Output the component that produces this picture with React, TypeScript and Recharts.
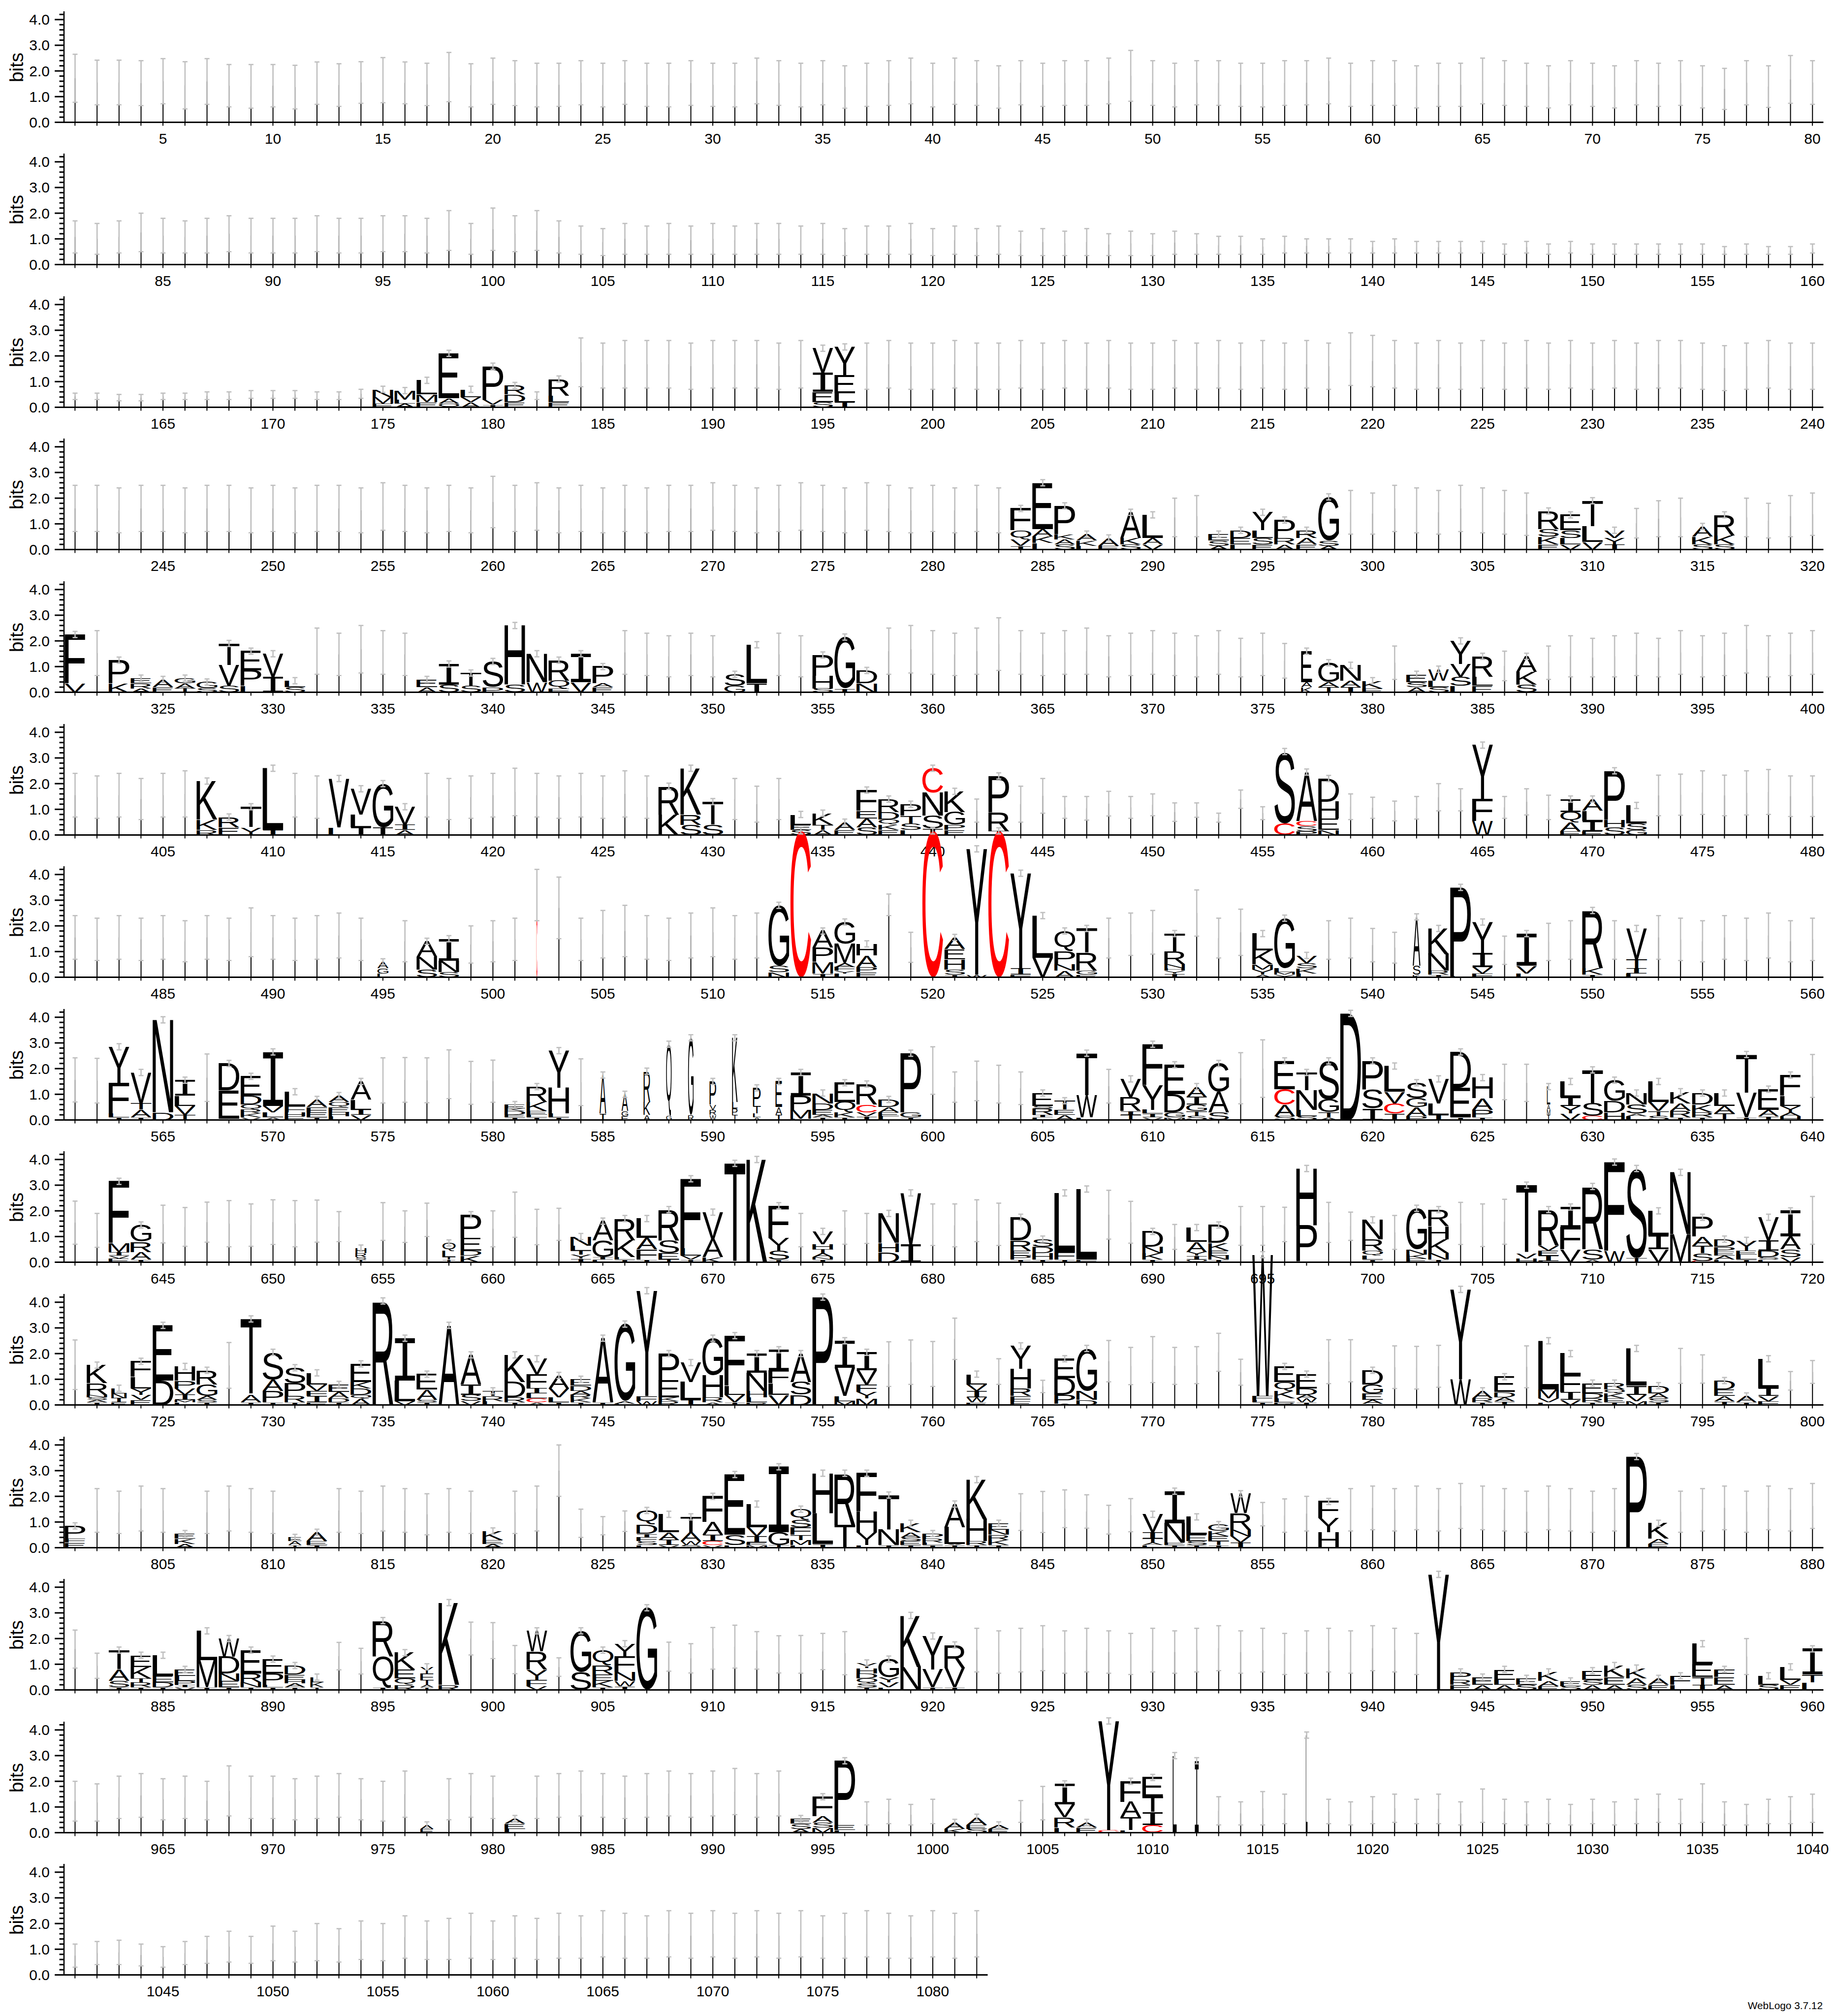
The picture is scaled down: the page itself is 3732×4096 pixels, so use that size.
import React, { useMemo } from 'react'
import { Bar, BarChart, ErrorBar, XAxis, YAxis } from 'recharts'

// ---- chart values (bits) -------------------------------------------------
// error bar tops / bottoms per position, '-' where a letter stack was read
const errTop0 = `2.65 2.42 2.42 2.4 2.48 2.36 2.48 2.25 2.25 2.25
2.22 2.35 2.28 2.36 2.52 2.35 2.3 2.72 2.28 2.5
2.4 2.3 2.3 2.4 2.3 2.4 2.3 2.3 2.4 2.3
2.3 2.5 2.4 2.3 2.4 2.2 2.3 2.4 2.5 2.3
2.5 2.4 2.2 2.4 2.3 2.4 2.4 2.5 2.8 2.4
2.3 2.4 2.4 2.3 2.3 2.4 2.4 2.5 2.3 2.4
2.4 2.2 2.3 2.3 2.5 2.4 2.3 2.2 2.4 2.3
2.2 2.4 2.3 2.4 2.2 2.1 2.4 2.2 2.6 2.4`
const errBot0 = `.78 .68 .68 .65 .72 .52 .7 .6 .55 .6
.52 .7 .62 .74 .76 .72 .65 .8 .6 .7
.65 .6 .62 .68 .6 .7 .62 .6 .66 .62
.6 .72 .66 .6 .68 .55 .62 .66 .72 .6
.7 .66 .55 .68 .62 .66 .66 .72 .82 .66
.6 .68 .66 .62 .6 .66 .68 .72 .62 .66
.66 .56 .62 .62 .72 .66 .62 .56 .68 .62
.56 .68 .62 .66 .56 .5 .68 .58 .74 .7`

const errTop1 = `1.7 1.6 1.7 2.0 1.8 1.7 1.8 1.9 1.8 1.8
1.8 1.9 1.8 1.8 1.9 1.9 1.8 2.1 1.6 2.2
1.9 2.1 1.7 1.5 1.4 1.6 1.5 1.6 1.5 1.6
1.5 1.6 1.6 1.5 1.6 1.4 1.5 1.5 1.6 1.4
1.5 1.4 1.5 1.3 1.4 1.3 1.4 1.2 1.3 1.2
1.3 1.2 1.1 1.1 1.0 1.1 1.0 1.0 1.0 .9
1.0 .9 .9 .9 .9 .8 .9 .8 .9 .8
.8 .8 .8 .8 .8 .7 .8 .7 .7 .8`
const errBot1 = `.45 .4 .45 .5 .45 .45 .45 .5 .45 .45
.45 .5 .45 .45 .5 .5 .45 .55 .4 .55
.5 .55 .45 .4 .35 .4 .4 .4 .4 .4
.4 .4 .4 .4 .4 .35 .4 .4 .4 .35
.4 .35 .4 .35 .35 .35 .35 .35 .35 .35
.4 .4 .4 .4 .4 .45 .45 .45 .45 .45
.45 .45 .45 .45 .45 .4 .45 .4 .45 .4
.4 .4 .4 .4 .4 .4 .4 .4 .4 .45`

const errTop2 = `.55 .55 .5 .5 .55 .55 .6 .6 .65 .65
.65 .6 .6 .7 - - - - - -
- .6 - 2.7 2.5 2.6 2.6 2.6 2.5 2.6
2.6 2.6 2.5 2.6 - - 2.5 2.6 2.5 2.5
2.6 2.5 2.5 2.6 2.5 2.6 2.5 2.6 2.5 2.5
2.6 2.5 2.6 2.5 2.6 2.5 2.6 2.5 2.9 2.8
2.6 2.5 2.6 2.5 2.6 2.5 2.6 2.5 2.6 2.5
2.6 2.5 2.6 2.6 2.5 2.4 2.5 2.6 2.5 2.5`
const errBot2 = `.3 .3 .25 .25 .3 .3 .3 .3 .35 .35
.35 .3 .3 .35 - - - - - -
- .3 - .8 .75 .75 .75 .75 .7 .75
.75 .75 .7 .75 - - .7 .75 .7 .7
.75 .7 .7 .75 .7 .75 .7 .75 .7 .7
.75 .7 .75 .7 .75 .7 .75 .7 .85 .8
.75 .7 .75 .7 .75 .7 .75 .7 .75 .7
.75 .7 .75 .75 .7 .65 .7 .75 .7 .7`

const errTop3 = `2.5 2.5 2.4 2.5 2.5 2.4 2.5 2.5 2.4 2.5
2.4 2.5 2.5 2.4 2.6 2.5 2.4 2.5 2.4 2.85
2.5 2.6 2.4 2.5 2.4 2.5 2.4 2.5 2.5 2.6
2.5 2.4 2.5 2.6 2.5 2.4 2.6 2.5 2.4 2.5
2.4 2.5 2.4 - - - - - - -
2.0 2.1 - - - - - - 2.3 2.2
2.5 2.4 2.3 2.5 2.4 2.3 2.2 - - -
- 1.6 1.9 2.0 - - 2.0 1.8 2.1 2.2`
const errBot3 = `.7 .7 .65 .7 .7 .65 .7 .7 .65 .7
.65 .7 .7 .65 .75 .7 .65 .7 .65 .85
.7 .75 .65 .7 .65 .7 .65 .7 .7 .75
.7 .65 .7 .75 .7 .65 .75 .7 .65 .7
.65 .7 .65 - - - - - - -
.5 .5 - - - - - - .6 .6
.7 .65 .6 .7 .65 .6 .55 - - -
- .45 .5 .5 - - .5 .45 .5 .55`

const errTop4 = `- 2.4 - - - - - - - -
- 2.5 2.3 2.6 2.4 2.3 - - - -
- - - - - 2.4 2.3 2.2 2.3 2.2
- - 2.3 2.2 - - - 2.5 2.6 2.4
2.3 2.5 2.9 2.4 2.3 2.4 2.5 2.2 2.3 2.4
2.3 2.2 2.4 2.1 2.3 1.9 - - - -
1.8 - - - - 1.6 - 1.8 2.2 2.1
2.2 2.3 2.1 2.4 2.2 2.3 2.6 2.2 2.3 2.4`
const errBot4 = `- .65 - - - - - - - -
- .7 .65 .75 .7 .65 - - - -
- - - - - .7 .65 .6 .65 .6
- - .65 .6 - - - .7 .75 .7
.65 .7 .85 .7 .65 .7 .7 .6 .65 .7
.65 .6 .7 .6 .65 .55 - - - -
.5 - - - - .45 - .5 .6 .6
.6 .65 .6 .7 .6 .65 .75 .6 .65 .7`

const errTop5 = `2.4 2.3 2.4 2.2 2.4 2.5 - - - -
2.4 2.3 - - - - 2.4 2.2 2.3 2.4
2.6 2.4 2.3 2.4 2.3 2.5 2.3 - - -
2.2 1.9 2.2 - - - - - - -
- 1.4 - 1.9 2.2 1.5 1.5 1.7 1.5 1.6
1.25 1.25 .85 1.75 1.1 - - - 1.6 1.47
1.32 1.5 2.0 1.8 - 1.5 1.8 1.55 - -
- - 2.33 2.37 2.5 2.33 2.5 2.55 2.3 2.3`
const errBot5 = `.7 .65 .7 .6 .7 .7 - - - -
.7 .65 - - - - .7 .6 .65 .7
.75 .7 .65 .7 .65 .7 .65 - - -
.6 .5 .6 - - - - - - -
- .5 - .5 .85 .65 .58 .74 .65 .75
.53 .69 .5 1.04 .6 - - - .6 .65
.55 .62 .94 .94 - .65 .78 .6 - -
- - .75 .77 .8 .75 .78 .8 .72 .72`

const errTop6 = `2.4 2.3 2.4 2.3 2.4 2.2 2.4 2.3 2.7 2.4
2.3 2.4 2.5 2.3 - 2.2 - - 2.0 2.2
2.3 4.2 3.9 2.3 2.6 2.8 2.4 2.3 2.5 2.7
2.4 2.5 - - - - - 3.24 1.75 -
- - - - - - - 2.3 2.5 2.6
- 3.4 2.3 2.65 - - - 2.2 2.3 1.9
1.75 - - - - 1.6 - 2.1 2.2 -
2.2 - 2.4 2.3 2.2 2.4 2.3 2.5 2.2 2.3`
const errBot6 = `.7 .65 .7 .65 .7 .6 .7 .65 .8 .7
.65 .7 .75 .65 - .6 - - .55 .6
.65 2.2 1.5 .65 .75 .8 .7 .65 .75 .8
.7 .75 - - - - - 2.4 .58 -
- - - - - - - .75 .85 .9
- 1.6 .75 .85 - - - .7 .75 .6
.55 - - - - .5 - .65 .7 -
.7 - .7 .65 .6 .7 .65 .75 .6 .65`

const errTop7 = `2.42 2.4 - - - - 2.57 - - -
- - - - 2.42 2.43 2.42 2.73 2.28 2.33
- - - 2.38 - - - - - -
- - - - - - - - - 2.85
1.87 2.29 2.13 1.87 - - - 1.97 - -
- - - 2.62 3.12 - - - - -
- - - - - 2.17 2.17 - - -
- - - - - - - - - 2.55`
const errBot7 = `.7 .66 - - - - .72 - - -
- - - - .66 .69 .67 .83 .61 .69
- - - .56 - - - - - -
- - - - - - - - - 1.0
.69 .75 .66 .6 - - - .66 - -
- - - .63 .88 - - - - -
- - - - - .79 .72 - - -
- - - - - - - - - .88`

const errTop8 = `2.38 1.9 - - 2.22 2.13 2.34 2.4 2.27 2.43
2.4 2.42 1.97 - 2.32 2.0 2.3 - - 2.0
2.73 2.06 2.1 - - - - - - -
- - - 1.9 - 2.0 1.9 - - 2.27
2.27 2.43 2.3 - - - - 2.8 2.37 -
1.47 - - 2.17 2.17 2.14 - 2.33 1.95 -
1.82 - - 2.33 2.27 2.45 - - - -
- - - - - - - - - 2.56`
const errBot8 = `.7 .58 - - .75 .62 .78 .6 .62 .69
.6 .78 .8 - .85 .77 1.0 - - .6
.97 .68 .85 - - - - - - -
- - - .6 - .7 .73 - - .65
.6 .8 .65 - - - - .9 .74 -
.5 - - .66 .66 .8 - .77 .85 -
.5 - - .69 .61 .7 - - - -
- - - - - - - - - .7`

const errTop9 = `2.53 - - - - - - 2.43 - -
- - - - - - - - - -
- - - - - - - - - -
- - - - - - - 2.46 2.53 2.47
3.38 - 1.8 - .96 - - 2.51 2.24 2.66
2.24 2.27 2.79 1.78 - - - 2.54 2.54 -
2.3 2.28 2.32 - - - 2.3 - - -
- - - 2.2 1.95 - - - 1.3 1.73`
const errBot9 = `.6 - - - - - - .65 - -
- - - - - - - - - -
- - - - - - - - - -
- - - - - - - .72 .8 .72
1.77 - .8 - .48 - - .9 .79 .87
.8 .83 1.31 .77 - - - .83 .9 -
.64 .62 .69 - - - .67 - - -
- - - .84 .85 - - - .58 .84`

const errTop10 = `- 2.3 2.2 2.4 2.3 - 2.2 2.4 2.3 2.2
- - 2.3 2.2 2.4 2.3 2.1 2.3 2.2 -
2.2 2.4 4.0 1.5 1.21 1.43 - - - -
- - - - - - - - - -
- - - 2.1 2.19 2.25 2.06 1.65 1.91 -
- - - - 1.76 1.9 2.0 - 2.3 2.4
2.3 2.4 2.3 2.5 2.4 2.3 2.2 2.4 2.3 2.2
2.3 - - 2.2 2.3 2.4 2.2 2.4 2.3 2.5`
const errBot10 = `- .6 .55 .65 .6 - .55 .65 .6 .55
- - .6 .55 .65 .6 .5 .6 .55 -
.55 .65 2.0 .4 .5 .63 - - - -
- - - - - - - - - -
- - - .67 .59 .78 .76 .53 .62 -
- - - - .85 .6 .65 - .65 .7
.65 .7 .65 .75 .7 .65 .6 .7 .65 .6
.65 - - .6 .65 .7 .6 .7 .65 .75`

const errTop11 = `2.33 1.43 - - - - - - - -
- - 1.85 1.62 - - - - 2.64 2.62
1.73 - 1.25 - - - - 1.86 1.8 2.43
2.52 2.27 2.11 2.12 2.2 2.27 - - - -
- 2.4 2.3 2.4 2.5 2.3 2.4 2.3 2.2 2.4
2.3 2.4 2.5 2.3 2.4 2.2 2.3 2.4 2.3 2.5
2.4 2.2 - - - - - - - -
- - - - - - 2.0 - - -`
const errBot11 = `.85 .45 - - - - - - - -
- - .78 .62 - - - - 1.36 1.22
.63 - .53 - - - - .73 .66 .81
.85 .81 .66 .65 .79 .59 - - - -
- .7 .65 .7 .75 .65 .7 .65 .6 .7
.65 .7 .75 .65 .7 .6 .65 .7 .65 .75
.7 .6 - - - - - - - -
- - - - - - .6 - - -`

const errTop12 = `2.0 1.9 2.2 2.3 2.1 2.2 2.0 2.6 2.2 2.2
2.1 2.2 2.3 2.1 2.0 2.4 - 2.1 2.3 2.2
- 2.2 2.3 2.4 2.3 2.2 2.3 2.4 2.3 2.4
2.5 2.3 2.4 - - - 1.2 1.3 1.1 1.3
- - - 1.25 1.8 - - - - -
- - 1.4 1.2 1.6 1.5 - 1.3 1.2 1.4
1.5 1.3 1.5 1.2 1.7 1.3 1.2 1.3 1.1 1.3
1.2 1.3 1.5 1.3 1.9 1.2 1.1 1.3 1.4 1.5`
const errBot12 = `.45 .45 .55 .6 .5 .55 .5 .65 .55 .55
.5 .55 .6 .5 .45 .6 - .5 .6 .55
- .55 .6 .65 .6 .55 .6 .65 .6 .65
.7 .6 .65 - - - .3 .35 .3 .35
- - - .4 .5 - - - - -
- - .3 .3 .3 .35 - .35 .3 .35
.4 .35 .35 .3 .4 .35 .3 .35 .3 .35
.3 .35 .4 .35 .4 .3 .3 .35 .35 .4`

const errTop13 = `1.2 1.3 1.35 1.2 1.1 1.3 1.5 1.7 1.5 1.9
1.7 2.0 1.8 2.1 2.0 2.3 2.1 2.2 2.4 2.1
2.3 2.2 2.4 2.3 2.5 2.4 2.3 2.5 2.4 2.5
2.4 2.5 2.4 2.5 2.3 2.4 2.5 2.4 2.3 2.5
2.4 2.5`
const errBot13 = `.3 .4 .4 .35 .3 .4 .45 .5 .45 .55
.5 .55 .5 .6 .55 .65 .6 .6 .65 .6
.65 .6 .65 .65 .7 .65 .65 .7 .65 .7
.65 .7 .65 .7 .65 .65 .7 .65 .65 .7
.65 .7`

// letter stacks: position[*widthShare]=Letter height ..., listed bottom to top
const stacks2 = `175=E.15M.25N.3 176=A.15L.15M.35 177=E.2M.3L.55 178=Q.15A.2E1.75 179=A.2V.2L.3
180=I.1V.2P1.3 181=E.2D.3R.35 183=E.2L.25R.65 195=S.2E.4I.75V.95 196=I.2L.35E.7Y1.1`
const stacks3 = `284=I.15V.25Q.35F.85 285=L.25K.25A.3E1.8 286=S.2A.2K.2P1.1 287=L.15K.2A.25 288=E.15A.3
289=S.2K.25A1.0 290=V.2A.25L.9 293=A.15S.2E.25 294=L.2E.25D.3 295=E.2S.25L.3Y.7 296=A.2R.25P.7
297=E.2A.25R.3 298=A.15S.2G1.7 308=E.2K.3S.3R.7 309=V.2L.25S.3E.6 310=V.3L.6T1.0 311=I.2Y.25V.3
315=S.2K.3A.4 316=S.2K.35R.8`
const stacks4 = `321=V.35F1.9 323=K.35P.9 324=A.15R.2E.2 325=E.2A.3 326=T.15A.2G.2 327=S.15G.25
328=S.25V.8T.85 329=L.25P.6E.75 330=I.6V.9 331=S.2L.25 337=A.2E.3 338=S.3I.8 339=S.25T.5 340=P.2S1.0
341=S.3H2.3 342=W.4N1.1 343=F.15Q.3R.8 344=V.4I1.1 345=E.2A.15P.65 351=G.25S.45 352=I.35L1.5
355=S.15H.5P.8 356=I.15G2.0 357=N.35D.5 377*.5=K.2A.2E1.2 378=T.2A.2G.75 379=I.2A.25N.6 380=E.15K.3
382=A.2S.2E.3 383=S.2L.25W.45 384=L.25S.35V.5Y.9 385=E.25L.35R.8 387=S.3K.5A.6`
const stacks5 = `407=R.2K.4K1.5 408=E.3R.4 409=Y.3T.8 410=I.2L2.4 413=L.3V1.9 414=I.3L.5V1.0 415=I.3G1.7
416=A.2I.2V.7 428=K.8R1.1 429=S.4R.4K1.8 430=S.4T.9 434=S.2E.2L.4 435=A.2T.2K.45 436=E.2A.3
437=S.3A.35E.3F.8 438=E.2K.2Q.2D.3R.5 439=L.2S.25T.3P.45 440=I.25S.5N.9C.95 441=E.2P.2G.5K.8
443=T.15R.75P1.4 456=C.45S2.8 457=P.15S.2C.2A1.9 458=N.2E.45H.65D.9 465=W.55F.85Y2.1
469=E.15A.35Q.4I.5 470=E.15I.4L.4A.45 471=S.3H.3P1.9 472=G.2S.25L.7`
const stacks6 = `495*.5=L.15G.2A.25 497=S.3N.5A.6 498=S.2N.45I.85 502*.05=C2.3 513=N.2S.25G2.35 514=C5.7
515=I.15M.45P.55A.65 516=L.15Y.1F.15A.15M.75G.85 517=E.2P.2A.45H.45 520=C5.7 521=I.1S.2H.4E.4A.45
522=W.1Y4.9 523=C5.7 524=F.1I.25Y3.7 525=V.75L1.65 526=A.25N.25P.5Q.8 527=E.1G.15R.7T.95
531=I.15Y.1H.1N.15R.5T.7 535=A.1Y.2M.2K.55L.65 536=Y.1M.1L.15G1.95 537=L.15K.2S.2V.3
542*.35=K.1S.35A1.9 543=I.1R.15N.65K1.0 544=L.05P3.45 545=F.15V.25I.55Y1.2 547=L.15V.3I1.25
550=I.1K.25R2.25 552=L.15I.2T.35V1.2`
const stacks7 = `563=I.1L.15F1.2Y1.4 564=I.1A.3T.25V1.2 565=D.3N3.6 566=T.2V.35L.4I.6 568=I.05E1.1D1.05
569=V.1K.15R.15Q.2D.35E.75 570=A.1L.2V.25I2.1 571=E.15H.15F.25L.55 572=I.1E.2F.2A.3
573=L.15H.15E.2Q.2A.25 574=V.2I.2L.4A.7 581=I.1E.1D.15K.1E.15 582=I.1L.1E.15K.35R.6
583=I.1L.15H1.0Y1.45 585*.3=I.25A1.5 586*.3=E.15G.2A.65 587*.3=A.2K.5R1.2 588*.25=G.15Q2.8
589*.25=R.2G3.0 590*.3=W.2R.2V.2P.9 591*.25=T.2P.25L.25K2.5 592*.35=A.1L.15T.3P.7 593*.3=I.2A.3E1.0
594=L.05M.35P.55I.9 595=I.1A.1E.2D.25N.4 596=I.1K.2Q.4E.75 597=I.15V.15C.3R.8 598=L.15E.15A.2D.3
599=I.1G.2P2.3 605=L.1I.1R.25S.1E.5 606=A.2E.2T.35 607=L.1W.85T1.65 609=T.2I.15R.55V.7
610=V.1I.15L.15Y.95F1.6 611=M.1G.2D.7E1.15 612=S.15T.2G.25I.3A.4 613=S.3A.8G1.1 616=S.15A.45C.6E1.1
617=S.15L.25N.75T.7 618=A.1T.2G.5S1.5 619=D4.15 620=I.45S.75P1.1 621=I.25C.4V.45L1.0
622=P.15A.35G.35S.6 623=I.2L.45V.95 624=I.1E1.15D1.4 625=I.1P.3A.45H.8 628*.15=I.2M.2A.2L.7
629=V.25Y.3I.35L.6 630=C.15S.5T1.3 631=H.3D.45G.8 632=L.15A.1S.35N.45 633=S.15T.2V.35L.8
634=I.1R.25A.3K.45 635=I.1R.2K.3D.45 636=T.25A.3L.5 637=I.1V.95T1.5 638=I.15A.25E.8
639=H.15A.15Y.25L.4F.8`
const stacks8 = `643=E.15V.1I.15M.35F2.4 644=I.1A.3R.4G.65 654*.5=I.1S.1R.15H.2 658*.6=I.1T.1L.25Q.3
659=K.25D.2E.5P.9 664=I.15Y.15T.15L.2N.35 665=L.1I.1G.65A.75 666=I.1L.1K.65R.85 667=I.1F.4A.45L.75
668=T.1E.25S.5R1.2 669=I.1V.15L.3F2.7 670=K.2A.7V1.05 671=T3.85 672=K4.0 673=I.1S.35Y.5F1.25
675=I.1N.1A.15T.15H.2V.5 678=D.4H.35N1.15 679=I.7V2.0 684=I.1P.15E.2R.4D.9 685=I.1H.25D.25S.3
686=I.1F.3L2.3 687=F.1L2.75 690=I.1K.25N.25D.6 692=Q.1I.15Y.15A.4L.55 693=I.1N.15E.2K.3D.7
697=I.05P1.4H2.2 700=I.1L.15Q.2R.45N.75 702=E.15K.15N.2G1.6 703=I.1N.25K.55H.5R.65
707=H.15V.2T2.65 708=L.05I.2E.2V.2R1.4 709=V.5F.85I.8 710=A.1S.4R2.45 711=W.45F3.45 712=T.15S3.5
713=V.5I.55L.95 714=M1.1N2.4 715=C.05S.3T.3A.35P.75 716=L.1A.15E.15P.2D.3 717=I.1L.2E.15Y.4
718=L.1S.1D.25I.4V.9 719=V.2S.3A.5I1.0`
const stacks9 = `722=I.1A.1S.1N.1R.45K.7 723*.7=E.1I.15N.2L.2 724=E.2V.2Y.25L.45F.6 725=D.95E2.15
726=L.1M.1I.2V.25P.3H.55 727=I.1S.1A.15G.45R.55 729=I.1A.3T2.95 730=I.1P.45A.45S1.05
731=I.1R.25P.5S.6 732=E.1I.25F.2V.25L.45 733=I.1D.15A.25E.3 734=A.25Q.15D.25K.25E.7 735=R4.05
736=V.15L.8I1.65 737=I.1S.1A.4E.6 738=A3.1 739=V.15S.25I.4A1.15 740=L.15R.2T.2 741=I.1R.2D.6K1.05
742=A.1C.15L.2I.2F.55V.6 743=I.1L.2V.35A.5 744=I.1K.15R.15A.15D.2E.25 745=I.1A2.5 746=L.05A.1G3.0
747=W.15F.2Y4.1 748=R.15K.15E.65P1.05 749=I.2L.7V.75 750=A.1R.2H.85G1.45 751=I.1V.3L.35F1.95
752=R.1L.2H.25N.7I.75 753=V.4L.45F.5I.8 754=D.4S.5A1.1 755=P4.2 756=M.15L.2V1.1I1.05
757=M.25Y.25F.3V.55I.7 762=E.1W.2I.25V.25L.4 764=E.15F.2R.3H.75Y.9 766=A.05P.35D.65E.75
767=D.2N.35G1.65 775=I.1L.1F.15W5.5 776=R.1L.15K.3Q.35E.6 777=I.1W.15A.15D.25E.55
780=I.05A.15E.25G.35D.55 784=W1.0Y3.5 785=I.1R.15A.3 786=I.15A.15D.2E.6 788=L.1V.15M.35L1.9
789=V.2I.3F.65L.85 790=I.1R.15D.2E.4 791=I.1E.15K.2Q.15R.25 792=M.15V.25I.35L1.45 793=I.1S.15A.2D.3
796=I.15A.2E.25D.35 797=I.1A.25 798=F.15V.2I.3L1.15`
const stacks10 = `801=E.2F.15P.5 806=A.15K.2E.2 811*.6=I.1A.15E.15 812=I.1E.15A.35 820=A.15E.15K.35
827=L.1S.15F.15I.15D.35Q.55 828=V.1I.2A.3L.7 829=S.1W.15A.35T.6 830=V.1C.15I.25A.5F1.0
831=L.1S.4E2.35 832=M.1E.1I.25V.35L.9 833=T.1G.5I2.55 834=L.1M.2T.2F.3S.3Q.4 835=I.15L1.2H1.55
836=T.9R2.0 837=L.1Y.5H.8F1.5 838=I.1N.6T1.35 839=I.1E.15S.15A.2K.35 840=I.1L.1R.15P.2
841=I.1V.05L.65A.9 842=I.1R.15H.85K1.55 843=I.1K.2R.2N.2E.25 850=L.1A.1T.15I.25V.7
851=I.1E.1N.75I1.25 852=I.1S.15E.25L.7 853=I.1T.15E.2K.2G.25 854=I.2V.25N.25R.65W.75
858=H.6Y.55F.65 872=P3.55 873=E.15A.2K.6`
const stacks11 = `883=I.1S.25A.45T.75 884=I.1R.2T.15K.45E.45 885=I.1D.2E.25L.8 886=V.1I.1P.15L.2E.25
887=I.1M1.05L1.15 888=I.1E.25N.3D.65W.7 889=I.1N.2R.35E.9 890=I.1L.1P.45E.55 891=I.1A.15H.15E.2D.35
892*.6=I.1K.2L.2 895=I.1Q1.2R1.4 896=R.2Q.25E.35K.65 897*.6=I.1A.1T.2F.25Y.25 898=R.2K3.2
902=V.15F.25Y.4R.7W.8 904=S.7G1.6 905=I.1K.25E.25R.35Q.6 906=I.15W.2N.35F.6Y.5 907=G3.2
917=I.1S.15Q.2D.2H.2Y.2 918=L.1V.2Y.2G.7 919=N.9K2.0 920=I.1V.7Y1.3 921=I.1V.75R.9 943=Y4.5
944=E.2R.2P.3 945=A.2E.3 946=A.2L.2E.4 947=S.2E.25 948=E.15A.2K.35 949=S.15E.2 950=A.2S.2E.35
951=A.2E.3K.45 952=S.2A.25K.4 953=E.2A.25 954=L.2F.35 955=I.2T.3E.5L.8 956=A.2E.3F.3 958=S.2L.35
959=E.2V.2L.5 960=L.3T.3I1.0`
const stacks12 = `977*.6=E.15A.15 981=L.15E.2A.2 994=A.15S.2E.2 995=M.2S.2A.25F.75 996=L.1E.2P2.5
1001=K.15A.25 1002=S.15E.15A.3 1003=E.15A.15 1006=L.2R.4V.5I.8 1007=E.2A.2 1008=C.1Y4.25
1009=L.1T.5A.6F.8 1010=C.3I.5T.6E.75 1011*.18=L3.0 1012*.18=I2.8 1017*.08=L3.8`

const ROW_STARTS = [1, 81, 161, 241, 321, 401, 481, 561, 641, 721, 801, 881, 961, 1041]
const ROW_COUNTS = [80, 80, 80, 80, 80, 80, 80, 80, 80, 80, 80, 80, 80, 42]
const ERR_TOPS = [errTop0, errTop1, errTop2, errTop3, errTop4, errTop5, errTop6, errTop7, errTop8, errTop9, errTop10, errTop11, errTop12, errTop13]
const ERR_BOTS = [errBot0, errBot1, errBot2, errBot3, errBot4, errBot5, errBot6, errBot7, errBot8, errBot9, errBot10, errBot11, errBot12, errBot13]
const STACKS = ['', '', stacks2, stacks3, stacks4, stacks5, stacks6, stacks7, stacks8, stacks9, stacks10, stacks11, stacks12, '']
const Y_TICKS = [0, 0.2, 0.4, 0.6, 0.8, 1, 1.2, 1.4, 1.6, 1.8, 2, 2.2, 2.4, 2.6, 2.8, 3, 3.2, 3.4, 3.6, 3.8, 4, 4.2]
const MAX_BITS = 4.3219
const STACK_ERR = 0.12

// ---- layout (px) ---------------------------------------------------------
const PAGE_W = 3732
const PAGE_H = 4096
const COL = 44.68
const AXIS_W = 130
const RIGHT_PAD = 27.6
const TOP_PAD = 12
const PLOT_H = 225.5
const XAXIS_H = 52
const CHART_H = TOP_PAD + PLOT_H + XAXIS_H
const FIRST_TOP = 10.5
const ROW_PITCH = 289.6
const THIN_W = 0.045
const LETTER_W = 0.94
const FONT = '"Liberation Sans", Arial, Helvetica, sans-serif'
const GREY = '#bfbfbf'

function parseNums(s: string) {
  return s.trim().split(/\s+/).map((t) => (t === '-' ? NaN : parseFloat(t)))
}

function parseStacks(s: string) {
  const out: Record<number, { w: number; letters: { ch: string; h: number }[] }> = {}
  s.trim().split(/\s+/).forEach((tok) => {
    const m = tok.match(/^(\d+)(?:\*([\d.]+))?=(.+)$/)
    if (!m) return
    const letters: { ch: string; h: number }[] = []
    const re = /([A-Z])(\d*\.?\d+)/g
    let r
    while ((r = re.exec(m[3]))) letters.push({ ch: r[1], h: parseFloat(r[2]) })
    out[+m[1]] = { w: m[2] ? parseFloat(m[2]) : LETTER_W, letters }
  })
  return out
}

function buildRow(k: number) {
  const hi = parseNums(ERR_TOPS[k])
  const lo = parseNums(ERR_BOTS[k])
  const stacks = parseStacks(STACKS[k])
  const rows = []
  for (let i = 0; i < ROW_COUNTS[k]; i++) {
    const pos = ROW_STARTS[k] + i
    const st = stacks[pos]
    const h = hi[i]
    const l = lo[i]
    let total = 0
    let letters: { ch: string; h: number }[] = []
    let w = THIN_W
    if (st) {
      letters = st.letters
      total = letters.reduce((a, b) => a + b.h, 0)
      w = st.w
    } else if (isFinite(h) && isFinite(l)) {
      total = (h + l) / 2
    }
    const err =
      isFinite(h) && isFinite(l)
        ? [Math.max(0, total - l), Math.max(0, h - total)]
        : [STACK_ERR, STACK_ERR]
    rows.push({ pos, total, err, w, letters })
  }
  return rows
}

// glyph ink metrics, measured once per letter
const inkCache: Record<string, any> = {}
function ink(ch: string) {
  if (inkCache[ch]) return inkCache[ch]
  const family = ch === 'I' ? '"Liberation Mono"' : '"Liberation Sans"'
  const ctx = document.createElement('canvas').getContext('2d') as CanvasRenderingContext2D
  ctx.font = `100px ${family}`
  const m = ctx.measureText(ch)
  const res = {
    family,
    left: m.actualBoundingBoxLeft,
    ascent: m.actualBoundingBoxAscent,
    w: m.actualBoundingBoxLeft + m.actualBoundingBoxRight || 60,
    h: m.actualBoundingBoxAscent + m.actualBoundingBoxDescent || 72,
  }
  inkCache[ch] = res
  return res
}

function Glyph({ ch, x, y, w, h }: { ch: string; x: number; y: number; w: number; h: number }) {
  if (h < 0.35 || w < 0.35) return null
  const m = ink(ch)
  return (
    <text
      transform={`translate(${x},${y}) scale(${w / m.w},${h / m.h}) translate(${m.left},${m.ascent})`}
      fontFamily={m.family}
      fontSize={100}
      fill={ch === 'C' ? '#ff0000' : '#000000'}
    >
      {ch}
    </text>
  )
}

function LogoStack(props: any) {
  const { x, y, width, height, payload } = props
  if (!payload || !payload.total || !(height > 0)) return null
  const w = width * payload.w
  const x0 = x + (width - w) / 2
  if (!payload.letters.length) {
    return <rect x={x0} y={y} width={w} height={height} fill="#000" />
  }
  const perBit = height / payload.total
  let cur = y + height
  return (
    <g>
      {payload.letters.map((s: any, i: number) => {
        const lh = s.h * perBit
        cur -= lh
        return <Glyph key={i} ch={s.ch} x={x0} y={cur} w={w} h={lh} />
      })}
    </g>
  )
}

function PosTick(props: any) {
  const { x, y, payload } = props
  const v = Number(payload.value)
  return (
    <g>
      <line x1={x} y1={y} x2={x} y2={y + 7} stroke="#000" strokeWidth={2} />
      {v % 5 === 0 && (
        <text x={x} y={y + 32.7} textAnchor="middle" dominantBaseline="central" fontFamily={FONT} fontSize={30} fill="#000">
          {v}
        </text>
      )}
    </g>
  )
}

function BitsTick(props: any) {
  const { x, y, payload } = props
  const v = Number(payload.value)
  const major = Math.abs(v - Math.round(v)) < 1e-6
  return (
    <g>
      <line x1={x - (major ? 18.8 : 9.4)} y1={y} x2={x} y2={y} stroke="#000" strokeWidth={3} />
      {major && (
        <text x={x - 29} y={y} textAnchor="end" dominantBaseline="central" fontFamily={FONT} fontSize={30} fill="#000">
          {v.toFixed(1)}
        </text>
      )}
    </g>
  )
}

function LogoRow({ k }: { k: number }) {
  const data = useMemo(() => buildRow(k), [k])
  const width = AXIS_W + ROW_COUNTS[k] * COL + RIGHT_PAD
  return (
    <div className="logo-row" style={{ position: 'absolute', left: 0, top: FIRST_TOP + k * ROW_PITCH, width, height: CHART_H }}>
      <BarChart
        width={width}
        height={CHART_H}
        data={data}
        margin={{ top: TOP_PAD, right: RIGHT_PAD, bottom: 0, left: 0 }}
        barCategoryGap={0}
        barGap={0}
      >
        <XAxis
          dataKey="pos"
          interval={0}
          height={XAXIS_H}
          tickLine={false}
          tickSize={0}
          tickMargin={0}
          axisLine={{ stroke: '#000', strokeWidth: 3.2 }}
          tick={<PosTick />}
        />
        <YAxis
          type="number"
          width={AXIS_W}
          domain={[0, MAX_BITS]}
          allowDataOverflow
          ticks={Y_TICKS}
          interval={0}
          tickLine={false}
          tickSize={0}
          tickMargin={0}
          axisLine={{ stroke: '#000', strokeWidth: 2.6 }}
          tick={<BitsTick />}
        />
        <Bar dataKey="total" isAnimationActive={false} shape={(p: any) => <LogoStack {...p} />}>
          <ErrorBar dataKey="err" direction="y" width={5} stroke={GREY} strokeWidth={2.6} />
        </Bar>
      </BarChart>
      <svg width={70} height={CHART_H} style={{ position: 'absolute', left: 0, top: 0, overflow: 'visible', pointerEvents: 'none' }}>
        <text
          transform={`translate(33.2,${TOP_PAD + PLOT_H - 111.6}) rotate(-90)`}
          textAnchor="middle"
          dominantBaseline="central"
          fontFamily={FONT}
          fontSize={38.7}
          fill="#000"
        >
          bits
        </text>
      </svg>
    </div>
  )
}

export default function App() {
  return (
    <div style={{ position: 'relative', width: PAGE_W, height: PAGE_H, background: '#fff' }}>
      <style>{`
        body { margin: 0; background: #fff; }
        .logo-row svg { overflow: visible; }
        .logo-row [clip-path] { clip-path: none !important; }
      `}</style>
      {ROW_STARTS.map((_, k) => (
        <LogoRow key={k} k={k} />
      ))}
      <svg width={340} height={46} style={{ position: 'absolute', left: 3400, top: 4050 }}>
        <text x={303} y={32} textAnchor="end" fontFamily={FONT} fontSize={20.8} fill="#000">
          WebLogo 3.7.12
        </text>
      </svg>
    </div>
  )
}
